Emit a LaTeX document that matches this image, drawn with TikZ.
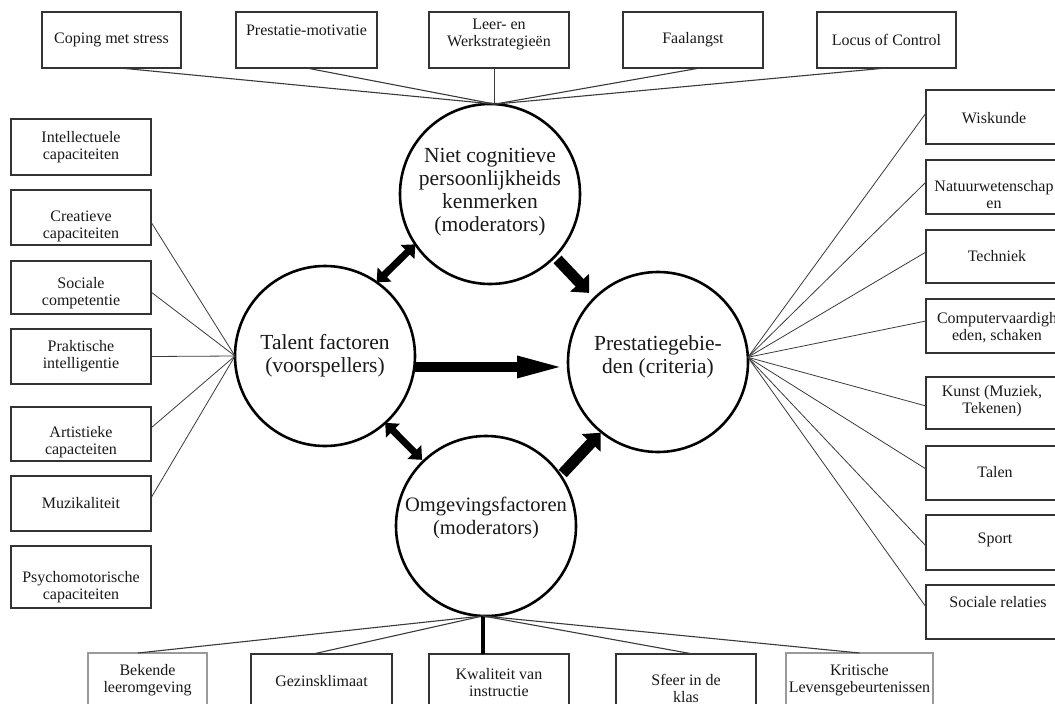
\documentclass[tikz,border=0pt]{standalone}
\usepackage{fontspec}
\setmainfont{Liberation Serif}
\usetikzlibrary{arrows.meta,calc}
\definecolor{boxc}{HTML}{333333}
\definecolor{lnc}{HTML}{3A3A3A}
\definecolor{grayb}{HTML}{9A9A9A}
\begin{document}
\begin{tikzpicture}[x=1pt,y=-1pt,
  box/.style={draw=boxc, line width=1.4pt, inner sep=0pt, outer sep=0pt},
  graybox/.style={draw=grayb, line width=1.7pt, inner sep=0pt, outer sep=0pt},
  txt/.style={align=center, inner sep=0pt, text=black!90, font=\fontsize{16}{17}\selectfont},
  circ/.style={circle, draw=black, line width=2.6pt, minimum size=180pt, inner sep=0pt, outer sep=0pt},
  ctxt/.style={align=center, inner sep=0pt, text=black!90, font=\fontsize{21.5}{23}\selectfont},
  conn/.style={draw=lnc, line width=0.8pt},
  topconn/.style={draw=lnc, line width=1.1pt},
  dblarrow/.style={line width=7pt, {Triangle[length=11pt,width=19pt]}-{Triangle[length=11pt,width=19pt]}},
  fatarrow/.style={line width=11pt, -{Triangle[length=14pt,width=25pt]}},
  longarrow/.style={line width=10.5pt, -{Triangle[length=51pt,width=19pt]}}
]
\useasboundingbox (0,0) rectangle (1055,704);
\clip (0,0) rectangle (1055,704);

% circles
\node[circ] (top) at (490,194) {};
\node[ctxt] (top-t) at (490,192) {Niet cognitieve\\persoonlijkheids\\kenmerken\\(moderators)};
\node[circ] (left) at (325,356) {};
\node[ctxt] (left-t) at (325,356) {Talent factoren\\(voorspellers)};
\node[circ] (right) at (658,362) {};
\node[ctxt] (right-t) at (658,357) {Prestatiegebie-\\den (criteria)};
\node[circ] (bot) at (486,526) {};
\node[ctxt, font=\fontsize{20.5}{23}\selectfont] (bot-t) at (486,518) {Omgevingsfactoren\\(moderators)};

% top boxes
\node[box, minimum width=139pt, minimum height=56pt] (coping) at (111.5,40) {};
\node[txt] (coping-t) at (111.5,40) {Coping met stress};
\node[box, minimum width=141pt, minimum height=56pt] (prest) at (306.5,40) {};
\node[txt] (prest-t) at (306.5,30) {Prestatie-motivatie};
\node[box, minimum width=140pt, minimum height=56pt] (leer) at (499,40) {};
\node[txt] (leer-t) at (499,34) {Leer- en\\Werkstrategieën};
\node[box, minimum width=140pt, minimum height=56pt] (faal) at (693,40) {};
\node[txt] (faal-t) at (693,40) {Faalangst};
\node[box, minimum width=139pt, minimum height=56pt] (locus) at (886.5,40) {};
\node[txt] (locus-t) at (886.5,40) {Locus of Control};

% left boxes
\node[box, minimum width=140pt, minimum height=56pt] (intel) at (81,147) {};
\node[txt] (intel-t) at (81,147) {Intellectuele\\capaciteiten};
\node[box, minimum width=140pt, minimum height=55pt] (creat) at (81,217.5) {};
\node[txt] (creat-t) at (81,226) {Creatieve\\capaciteiten};
\node[box, minimum width=140pt, minimum height=53pt] (soc) at (81,287.5) {};
\node[txt] (soc-t) at (81,293) {Sociale\\competentie};
\node[box, minimum width=140pt, minimum height=55pt] (prak) at (81,356.5) {};
\node[txt] (prak-t) at (81,356) {Praktische\\intelligentie};
\node[box, minimum width=140pt, minimum height=54pt] (art) at (81,434) {};
\node[txt] (art-t) at (81,442) {Artistieke\\capacteiten};
\node[box, minimum width=140pt, minimum height=55pt] (muz) at (81,503.5) {};
\node[txt] (muz-t) at (81,503) {Muzikaliteit};
\node[box, minimum width=140pt, minimum height=62pt] (psy) at (81,577) {};
\node[txt] (psy-t) at (81,587) {Psychomotorische\\capaciteiten};

% right boxes
\node[box, minimum width=144pt, minimum height=54pt] (wis) at (998,117) {};
\node[txt] (wis-t) at (994,118) {Wiskunde};
\node[box, minimum width=144pt, minimum height=54pt] (nat) at (998,187) {};
\node[txt] (nat-t) at (994,195) {Natuurwetenschap\\en};
\node[box, minimum width=144pt, minimum height=53pt] (tech) at (998,256.5) {};
\node[txt] (tech-t) at (997,256) {Techniek};
\node[box, minimum width=144pt, minimum height=54pt] (comp) at (998,326) {};
\node[txt] (comp-t) at (997,328) {Computervaardigh\\eden, schaken};
\node[box, minimum width=144pt, minimum height=52pt] (kunst) at (998,403) {};
\node[txt] (kunst-t) at (992,401.5) {Kunst (Muziek,\\Tekenen)};
\node[box, minimum width=144pt, minimum height=54pt] (talen) at (998,473) {};
\node[txt] (talen-t) at (995,472) {Talen};
\node[box, minimum width=144pt, minimum height=55pt] (sport) at (998,542.5) {};
\node[txt] (sport-t) at (995,540) {Sport};
\node[box, minimum width=144pt, minimum height=54pt] (socrel) at (998,612) {};
\node[txt] (socrel-t) at (998,602) {Sociale relaties};

% bottom boxes
\node[graybox, minimum width=119pt, minimum height=70pt] (bek) at (147.5,688) {};
\node[txt] (bek-t) at (147.5,680) {Bekende\\leeromgeving};
\node[box, minimum width=141pt, minimum height=70pt] (gez) at (321.5,689) {};
\node[txt] (gez-t) at (321.5,681) {Gezinsklimaat};
\node[box, minimum width=140pt, minimum height=70pt] (kwal) at (499,689) {};
\node[txt] (kwal-t) at (499,682.5) {Kwaliteit van\\instructie};
\node[box, minimum width=140pt, minimum height=70pt] (sfeer) at (686,689) {};
\node[txt] (sfeer-t) at (686,688) {Sfeer in de\\klas};
\node[graybox, minimum width=147pt, minimum height=70pt] (krit) at (859.5,688) {};
\node[txt] (krit-t) at (859.5,680) {Kritische\\Levensgebeurtenissen};

% top connectors
\draw[topconn] ([xshift=8.5pt]coping.south) -- (top.87);
\draw[topconn] (prest.south) -- (top.87);
\draw[conn] (top.87) -- (top.87 |- leer.south);
\draw[topconn] ([xshift=7pt]faal.south) -- (top.87);
\draw[topconn] (locus.south) -- (top.87);

% left connectors
\draw[conn] ([yshift=-4.5pt]creat.east) -- (left.west);
\draw[conn] ([yshift=-4.5pt]soc.east) -- (left.west);
\draw[conn] (prak.east) -- (left.west);
\draw[conn] ([yshift=6pt]art.east) -- (left.west);
\draw[conn] ([yshift=5.5pt]muz.east) -- (left.west);

% right connectors
\draw[conn] (right.3) -- ([yshift=4pt]wis.west);
\draw[conn] (right.3) -- ([yshift=5pt]nat.west);
\draw[conn] (right.3) -- ([yshift=4.5pt]tech.west);
\draw[conn] (right.3) -- ([yshift=5pt]comp.west);
\draw[conn] (right.3) -- ([yshift=-3pt]kunst.west);
\draw[conn] (right.3) -- ([yshift=4pt]talen.west);
\draw[conn] (right.3) -- ([yshift=-3.5pt]sport.west);
\draw[conn] (right.3) -- ([yshift=5pt]socrel.west);

% bottom connectors
\draw[topconn] (bot.-92) -- ([xshift=-9.5pt]bek.north);
\draw[topconn] (bot.-92) -- ([xshift=-8.5pt]gez.north);
\draw[line width=3.5pt, draw=black] (bot.-92) -- (bot.-92 |- kwal.north);
\draw[topconn] (bot.-92) -- ([xshift=7pt]sfeer.north);
\draw[topconn] (bot.-92) -- (krit.north);

% arrows between circles
\draw[dblarrow] (top.214) -- (left.55);
\draw[fatarrow, shorten <=4pt, shorten >=7.5pt] (top.-44) -- (right.135);
\draw[longarrow] (left.-7.6) -- (left.-7.6 -| right.west);
\draw[dblarrow, shorten >=2pt] (left.-48) -- (bot.134);
\draw[fatarrow, shorten <=3pt, shorten >=1pt] (bot.34.5) -- (right.231.6);
\end{tikzpicture}
\end{document}
